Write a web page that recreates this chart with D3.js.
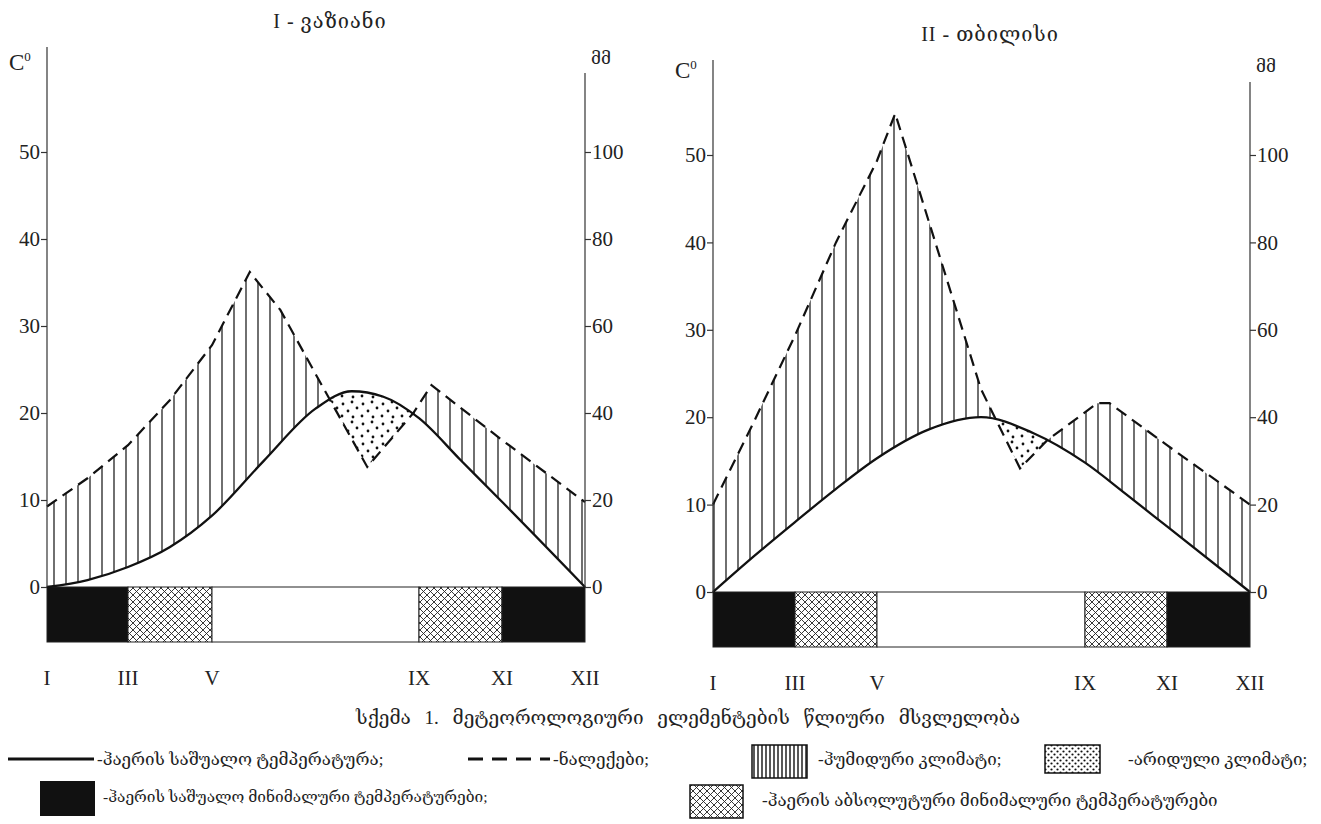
<!DOCTYPE html>
<html>
<head>
<meta charset="utf-8">
<script src="https://cdn.jsdelivr.net/npm/d3@7"></script>
<style>
  body { margin: 0; background: #fff; }
  svg text { font-family: "Liberation Serif", "DejaVu Serif", serif; fill: #222; }
</style>
</head>
<body>
<svg id="chart" width="1321" height="824"></svg>
<script>
// month ticks along the bottom
var monthTicks = [1, 3, 5, 9, 11, 12];
var monthLabels = ["I", "III", "V", "IX", "XI", "XII"];
var tempTicks = [0, 10, 20, 30, 40, 50];
var precTicks = [0, 20, 40, 60, 80, 100];

// frost bar: month ranges and what fills them
var barFrom = [1, 3, 5, 9, 11];
var barTo = [3, 5, 9, 11, 12];
var barKind = ["mean", "abs", "none", "abs", "mean"];

// I - ვაზიანი
var vazTempMonth = [1, 2, 3, 4, 5, 6, 7, 7.7, 8.3, 9, 10, 11, 12];
var vazTemp = [0, 0.8, 2.3, 4.6, 8.2, 14.5, 20.5, 22.5, 21.9, 19.4, 14.6, 9.8, 0];
var vazPrecMonth = [1, 2, 3, 4, 5, 5.73, 6.32, 7, 8, 8.89, 9.3, 11, 12];
var vazPrec = [18.5, 25, 32.6, 43, 55.6, 72.4, 63.7, 49, 27.6, 40, 46.4, 33.8, 19.5];

// II - თბილისი
var tbTempMonth = [1, 2, 3, 4, 5, 6, 7, 8, 9, 10, 11, 12];
var tbTemp = [0, 4.1, 8.0, 11.8, 15.3, 18.6, 20.0, 18.2, 14.8, 11.2, 7.5, 0];
var tbPrecMonth = [1, 2, 3, 4, 5, 5.35, 7, 7.75, 8.27, 9.3, 9.6, 11, 12];
var tbPrec = [20, 39, 58.7, 80, 98.7, 109.5, 46.4, 28.3, 34.7, 43.2, 43.2, 33.6, 20];

var svg = d3.select("#chart");
var defs = svg.append("defs");

function pattern(id, w, h) {
  var p = defs.append("pattern")
    .attr("id", id)
    .attr("patternUnits", "userSpaceOnUse")
    .attr("width", w)
    .attr("height", h);
  p.append("rect").attr("width", w).attr("height", h).attr("fill", "#fff");
  return p;
}

// vertical hatching (humid)
var vp = pattern("humid", 12, 10);
vp.append("line").attr("x1", 6).attr("x2", 6).attr("y1", 0).attr("y2", 10)
  .attr("stroke", "#222").attr("stroke-width", 1.3);
var vpl = pattern("humidLegend", 4, 10);
vpl.append("line").attr("x1", 2).attr("x2", 2).attr("y1", 0).attr("y2", 10)
  .attr("stroke", "#111").attr("stroke-width", 1.4);

// stipple (arid)
var dp = pattern("arid", 20, 20);
[[3, 4], [12, 2], [8, 11], [17, 8], [2, 16], [13, 17]].forEach(function (d) {
  dp.append("circle").attr("cx", d[0]).attr("cy", d[1]).attr("r", 1.4).attr("fill", "#111");
});
var dpl = pattern("aridLegend", 6, 6);
[[1.5, 1.5], [4.5, 4.5]].forEach(function (d) {
  dpl.append("circle").attr("cx", d[0]).attr("cy", d[1]).attr("r", 1.1).attr("fill", "#111");
});

// cross hatching (absolute minimum below zero)
var cp = pattern("cross", 7, 7);
cp.append("path").attr("d", "M0,0L7,7M7,0L0,7M-1,6L1,8M6,-1L8,1M6,8L8,6M-1,1L1,-1")
  .attr("stroke", "#222").attr("stroke-width", 0.9).attr("fill", "none");

var panels = [
  {
    key: "vaz", title: "I - ვაზიანი",
    tempM: vazTempMonth, temp: vazTemp, precM: vazPrecMonth, prec: vazPrec,
    xr: [47, 128, 212, 419, 502, 585], y0: 587, y50: 152,
    topL: 47, topR: 73, titleX: 330, titleY: 28, unitY: 70, labelY: 685
  },
  {
    key: "tb", title: "II - თბილისი",
    tempM: tbTempMonth, temp: tbTemp, precM: tbPrecMonth, prec: tbPrec,
    xr: [713, 795, 877, 1085, 1167, 1250], y0: 592, y50: 155,
    topL: 60, topR: 82, titleX: 990, titleY: 41, unitY: 78, labelY: 690
  }
];

panels.forEach(function (p) {
  var g = svg.append("g");
  var x = d3.scaleLinear().domain(monthTicks).range(p.xr);
  var yT = d3.scaleLinear().domain([0, 50]).range([p.y0, p.y50]);
  var yP = d3.scaleLinear().domain([0, 100]).range([p.y0, p.y50]);

  var tempPts = d3.zip(p.tempM, p.temp);
  var precPts = d3.zip(p.precM, p.prec);

  var tempLine = d3.line().x(function (d) { return x(d[0]); }).y(function (d) { return yT(d[1]); })
    .curve(d3.curveMonotoneX);
  var precLine = d3.line().x(function (d) { return x(d[0]); }).y(function (d) { return yP(d[1]); });

  var aboveT = d3.area().x(function (d) { return x(d[0]); }).y0(0)
    .y1(function (d) { return yT(d[1]); }).curve(d3.curveMonotoneX);
  var aboveP = d3.area().x(function (d) { return x(d[0]); }).y0(0)
    .y1(function (d) { return yP(d[1]); });
  var belowT = d3.area().x(function (d) { return x(d[0]); }).y0(p.y0)
    .y1(function (d) { return yT(d[1]); }).curve(d3.curveMonotoneX);
  var belowP = d3.area().x(function (d) { return x(d[0]); }).y0(p.y0)
    .y1(function (d) { return yP(d[1]); });

  defs.append("clipPath").attr("id", p.key + "-aboveT").append("path").attr("d", aboveT(tempPts));
  defs.append("clipPath").attr("id", p.key + "-aboveP").append("path").attr("d", aboveP(precPts));

  // humid: under precipitation, over temperature
  g.append("path").attr("d", belowP(precPts)).attr("fill", "url(#humid)")
    .attr("clip-path", "url(#" + p.key + "-aboveT)");
  // arid: under temperature, over precipitation
  g.append("path").attr("d", belowT(tempPts)).attr("fill", "url(#arid)")
    .attr("clip-path", "url(#" + p.key + "-aboveP)");

  // frost bar
  var fills = { mean: "#111", abs: "url(#cross)", none: "#fff" };
  g.selectAll("rect.bar")
    .data(d3.range(barFrom.length))
    .enter()
    .append("rect")
    .attr("class", "bar")
    .attr("x", function (i) { return x(barFrom[i]); })
    .attr("width", function (i) { return x(barTo[i]) - x(barFrom[i]); })
    .attr("y", p.y0)
    .attr("height", 55)
    .attr("fill", function (i) { return fills[barKind[i]]; })
    .attr("stroke", "#222")
    .attr("stroke-width", 1);

  // lines
  g.append("path").attr("d", tempLine(tempPts)).attr("fill", "none")
    .attr("stroke", "#111").attr("stroke-width", 2.3);
  g.append("path").attr("d", precLine(precPts)).attr("fill", "none")
    .attr("stroke", "#111").attr("stroke-width", 2.2).attr("stroke-dasharray", "12,7");

  // axes
  var xl = p.xr[0], xr = p.xr[p.xr.length - 1];
  g.append("line").attr("x1", xl).attr("x2", xl).attr("y1", p.topL).attr("y2", p.y0)
    .attr("stroke", "#333").attr("stroke-width", 1.2);
  g.append("line").attr("x1", xr).attr("x2", xr).attr("y1", p.topR).attr("y2", p.y0)
    .attr("stroke", "#333").attr("stroke-width", 1.2);

  var axL = g.append("g").attr("transform", "translate(" + xl + ",0)")
    .call(d3.axisLeft(yT).tickValues(tempTicks).tickSize(6).tickPadding(1));
  var axR = g.append("g").attr("transform", "translate(" + xr + ",0)")
    .call(d3.axisRight(yP).tickValues(precTicks).tickSize(6).tickPadding(1));
  [axL, axR].forEach(function (ax) {
    ax.select(".domain").remove();
    ax.attr("font-family", null).attr("font-size", null);
    ax.selectAll("line").attr("stroke", "#333").attr("stroke-width", 1.2);
    ax.selectAll("text").style("font-size", "21px").attr("fill", "#222");
  });

  // month labels
  g.selectAll("text.month")
    .data(monthTicks)
    .enter()
    .append("text")
    .attr("class", "month")
    .attr("x", function (d) { return x(d); })
    .attr("y", p.labelY)
    .attr("text-anchor", "middle")
    .style("font-size", "21px")
    .text(function (d, i) { return monthLabels[i]; });

  // units and title
  var c = g.append("text").attr("x", xl - 38).attr("y", p.unitY).style("font-size", "23px");
  c.append("tspan").text("C");
  c.append("tspan").attr("dy", -9).style("font-size", "13px").text("0");
  g.append("text").attr("x", xr + 6).attr("y", p.unitY - 6).style("font-size", "17px")
    .attr("fill", "#444").text("მმ");
  g.append("text").attr("x", p.titleX).attr("y", p.titleY).attr("text-anchor", "middle")
    .style("font-size", "20px").style("letter-spacing", "1px").text(p.title);
});

// caption
svg.append("text").attr("x", 688).attr("y", 724).attr("text-anchor", "middle")
  .style("font-size", "19px").style("word-spacing", "9px")
  .text("სქემა 1. მეტეოროლოგიური ელემენტების წლიური მსვლელობა");

// legend
var lg = svg.append("g").style("font-size", "17px");
lg.append("line").attr("x1", 8).attr("x2", 94).attr("y1", 759).attr("y2", 759)
  .attr("stroke", "#111").attr("stroke-width", 3);
lg.append("text").attr("x", 97).attr("y", 765).text("-ჰაერის საშუალო ტემპერატურა;");
lg.append("line").attr("x1", 468).attr("x2", 550).attr("y1", 759).attr("y2", 759)
  .attr("stroke", "#111").attr("stroke-width", 3).attr("stroke-dasharray", "15,9");
lg.append("text").attr("x", 553).attr("y", 765).text("-ნალექები;");
lg.append("rect").attr("x", 752).attr("y", 745).attr("width", 55).attr("height", 33)
  .attr("fill", "url(#humidLegend)").attr("stroke", "#111").attr("stroke-width", 1.5);
lg.append("text").attr("x", 818).attr("y", 765).text("-ჰუმიდური კლიმატი;");
lg.append("rect").attr("x", 1045).attr("y", 745).attr("width", 55).attr("height", 28)
  .attr("fill", "url(#aridLegend)").attr("stroke", "#111").attr("stroke-width", 1.5);
lg.append("text").attr("x", 1128).attr("y", 765).text("-არიდული კლიმატი;");
lg.append("rect").attr("x", 40).attr("y", 781).attr("width", 55).attr("height", 35)
  .attr("fill", "#111");
lg.append("text").attr("x", 103).attr("y", 802).style("font-size", "15.5px")
  .text("-ჰაერის საშუალო მინიმალური ტემპერატურები;");
lg.append("rect").attr("x", 690).attr("y", 785).attr("width", 53).attr("height", 33)
  .attr("fill", "url(#cross)").attr("stroke", "#111").attr("stroke-width", 1.5);
lg.append("text").attr("x", 762).attr("y", 806)
  .text("-ჰაერის აბსოლუტური მინიმალური ტემპერატურები");
</script>
</body>
</html>
